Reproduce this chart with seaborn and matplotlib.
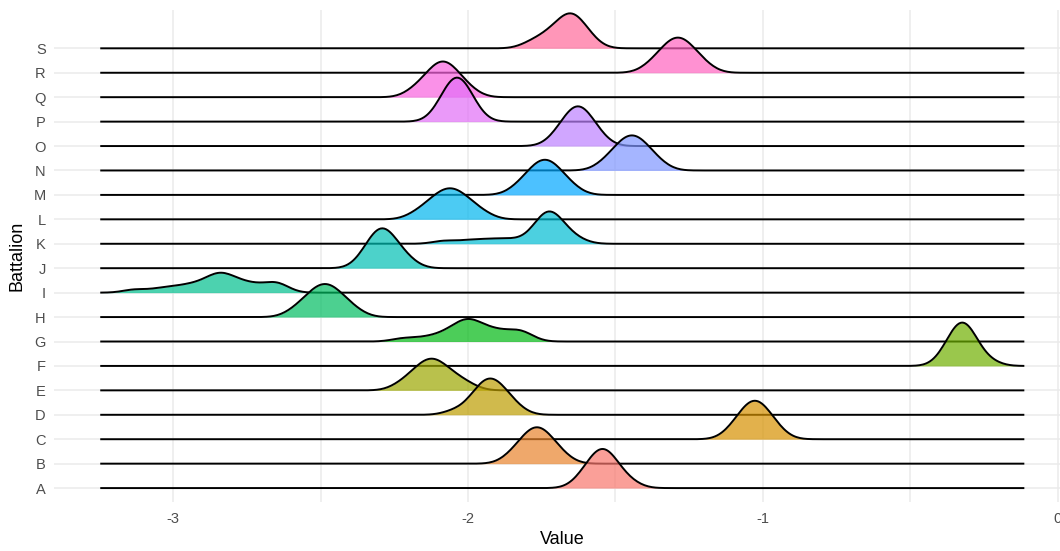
import numpy as np
import pandas as pd
import matplotlib
matplotlib.use("Agg")
import matplotlib.pyplot as plt
import seaborn as sns
from seaborn._statistics import KDE

# Battalion labels, bottom to top
battalions = list("ABCDEFGHIJKLMNOPQRS")

# Observed values per battalion
vals_A = [-1.623, -1.600, -1.586, -1.576, -1.567, -1.559, -1.552, -1.5455, -1.538, -1.532, -1.525, -1.517, -1.508, -1.497, -1.478, -1.445]
vals_B = [-1.860, -1.833, -1.817, -1.805, -1.795, -1.786, -1.778, -1.770, -1.762, -1.754, -1.746, -1.737, -1.727, -1.715, -1.699, -1.672]
vals_C = [-1.112, -1.088, -1.073, -1.063, -1.054, -1.045, -1.038, -1.031, -1.023, -1.016, -1.009, -1.000, -0.991, -0.981, -0.966, -0.942]
vals_D = [-2.045, -1.990, -1.976, -1.964, -1.954, -1.945, -1.937, -1.929, -1.921, -1.913, -1.905, -1.896, -1.886, -1.874, -1.858, -1.831]
vals_E = [-2.232, -2.199, -2.180, -2.166, -2.154, -2.143, -2.134, -2.124, -2.114, -2.106, -2.097, -2.085, -2.068, -2.050, -2.030, -1.995]
vals_F = [-0.388, -0.369, -0.358, -0.350, -0.343, -0.336, -0.3305, -0.325, -0.319, -0.3135, -0.308, -0.301, -0.294, -0.286, -0.275, -0.230]
vals_G = [-2.22, -2.15, -2.10, -2.07, -2.05, -2.03, -2.02, -2.01, -2.00, -1.99, -1.98, -1.97, -1.95, -1.93, -1.91, -1.89, -1.86, -1.83, -1.82, -1.80]
vals_H = [-2.593, -2.562, -2.544, -2.530, -2.519, -2.508, -2.499, -2.490, -2.480, -2.471, -2.462, -2.451, -2.440, -2.426, -2.408, -2.377]
vals_I = [-3.13, -3.05, -3.00, -2.96, -2.93, -2.90, -2.88, -2.86, -2.85, -2.84, -2.83, -2.82, -2.80, -2.78, -2.76, -2.73, -2.70, -2.66, -2.645, -2.635]
vals_J = [-2.360, -2.340, -2.328, -2.319, -2.311, -2.304, -2.298, -2.291, -2.285, -2.278, -2.271, -2.262, -2.252, -2.240, -2.222, -2.195]
vals_K = [-2.08, -2.00, -1.94, -1.89, -1.84, -1.782, -1.764, -1.754, -1.747, -1.741, -1.735, -1.730, -1.725,
          -1.718, -1.712, -1.705, -1.697, -1.688, -1.677, -1.660, -1.625]
vals_L = [-2.179, -2.145, -2.125, -2.111, -2.098, -2.086, -2.076, -2.066, -2.056, -2.046, -2.036, -2.024, -2.011, -1.997, -1.977, -1.943]
vals_M = [-1.838, -1.809, -1.793, -1.780, -1.770, -1.760, -1.752, -1.743, -1.735, -1.726, -1.718, -1.708, -1.698, -1.685, -1.669, -1.640]
vals_N = [-1.543, -1.514, -1.498, -1.485, -1.475, -1.465, -1.457, -1.448, -1.440, -1.431, -1.423, -1.413, -1.400, -1.392, -1.374, -1.345]
vals_O = [-1.708, -1.685, -1.671, -1.661, -1.652, -1.644, -1.637, -1.6305, -1.6235, -1.617, -1.610, -1.602, -1.593, -1.583, -1.569, -1.546]
vals_P = [-2.103, -2.084, -2.073, -2.065, -2.058, -2.051, -2.0455, -2.040, -2.034, -2.0285, -2.023, -2.016, -2.009, -2.001, -1.990, -1.971]
vals_Q = [-2.186, -2.160, -2.140, -2.123, -2.113, -2.106, -2.100, -2.094, -2.078, -2.072, -2.066, -2.058, -2.046, -2.033, -2.017, -1.988]
vals_R = [-1.387, -1.358, -1.342, -1.329, -1.319, -1.309, -1.301, -1.292, -1.284, -1.275, -1.267, -1.257, -1.247, -1.234, -1.218, -1.189]
vals_S = [-1.790, -1.755, -1.730, -1.712, -1.697, -1.684, -1.673, -1.663, -1.656, -1.650, -1.643, -1.635, -1.626, -1.615, -1.600, -1.578]

x_ticks = [-3, -2, -1, 0]
x_tick_labels = ["-3", "-2", "-1", "0"]

all_vals = [vals_A, vals_B, vals_C, vals_D, vals_E, vals_F, vals_G, vals_H, vals_I, vals_J,
            vals_K, vals_L, vals_M, vals_N, vals_O, vals_P, vals_Q, vals_R, vals_S]
df = pd.concat(
    [pd.DataFrame({"Battalion": b, "Value": v}) for b, v in zip(battalions, all_vals)],
    ignore_index=True,
)


def hue_color(h, c=100.0, l=65.0):
    """Polar-Luv (HCL) colour to sRGB, as used by ggplot's default hue scale."""
    xn, yn, zn = 95.047, 100.0, 108.883
    den = xn + 15 * yn + 3 * zn
    un, vn = 4 * xn / den, 9 * yn / den
    hr = np.deg2rad(h)
    u, v = c * np.cos(hr), c * np.sin(hr)
    y = yn * ((l + 16) / 116) ** 3
    up, vp = u / (13 * l) + un, v / (13 * l) + vn
    x = y * 9 * up / (4 * vp)
    z = y * (12 - 3 * up - 20 * vp) / (4 * vp)
    m = np.array([[3.2404542, -1.5371385, -0.4985314],
                  [-0.9692660, 1.8760108, 0.0415560],
                  [0.0556434, -0.2040259, 1.0572252]])
    rgb = m @ (np.array([x, y, z]) / 100)
    rgb = np.clip(rgb, 0, None)
    rgb = np.where(rgb <= 0.0031308, 12.92 * rgb, 1.055 * rgb ** (1 / 2.4) - 0.055)
    return tuple(np.clip(rgb, 0, 1))


n_groups = len(battalions)
hues = np.linspace(15, 375, n_groups + 1)[:-1]
palette = {b: hue_color(h) for b, h in zip(battalions, hues)}

# Joint kernel bandwidth shared by all ridges, common evaluation grid
bandwidth = 0.039
lo = df["Value"].min() - 3 * bandwidth
hi = df["Value"].max() + 3 * bandwidth
grid = np.linspace(lo, hi, 512)

densities = {}
for b in battalions:
    x = df.loc[df["Battalion"] == b, "Value"].to_numpy()
    kde = KDE(bw_method=bandwidth / x.std(ddof=1), gridsize=512)
    kde.support = grid
    dens, _ = kde(x)
    densities[b] = dens

scale = 1.8
dmax = max(d.max() for d in densities.values())

sns.set_theme(style="whitegrid")
plt.rcParams["font.family"] = ["Liberation Sans", "DejaVu Sans"]

fig = plt.figure(figsize=(10.6, 5.51), dpi=100)
ax = fig.add_axes([0.0509, 0.0889, 0.9594, 0.893])
ax.set_facecolor("white")

# Draw from the top ridge downwards so lower ridges overlay the ones above
for i in range(n_groups - 1, -1, -1):
    b = battalions[i]
    base = i + 1
    top = base + densities[b] / dmax * scale
    ax.fill_between(grid, base, top, color=palette[b], alpha=0.7, linewidth=0, zorder=2)
    ax.plot(grid, top, color="black", linewidth=1.4, zorder=2, solid_capstyle="butt")

ax.set_xlim(-3.404, 0.045)
ax.set_ylim(0.43, 20.57)
ax.set_xticks(x_ticks)
ax.set_xticklabels(x_tick_labels)
ax.set_xticks([-2.5, -1.5, -0.5], minor=True)
ax.set_yticks(range(1, n_groups + 1))
ax.set_yticklabels(battalions)

ax.grid(which="major", color="#EBEBEB", linewidth=1.1)
ax.grid(which="minor", axis="x", color="#EBEBEB", linewidth=1.1)
ax.set_axisbelow(True)
for s in ax.spines.values():
    s.set_visible(False)
ax.tick_params(axis="both", which="both", length=0, labelsize=10.5, labelcolor="#4D4D4D")
ax.tick_params(axis="x", pad=7)
ax.tick_params(axis="y", pad=6)

ax.set_xlabel("Value", fontsize=13, color="black", labelpad=4)
ax.set_ylabel("Battalion", fontsize=13, color="black", labelpad=6)

fig.savefig("out.png", dpi=100)
